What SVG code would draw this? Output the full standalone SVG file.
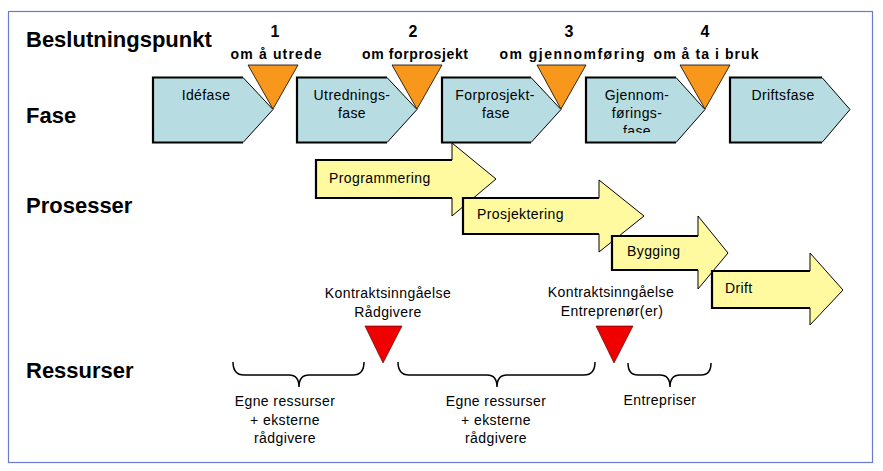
<svg xmlns="http://www.w3.org/2000/svg" width="883" height="471" viewBox="0 0 883 471">
<style>
.hd{font-family:"Liberation Sans",Arial,sans-serif;font-weight:bold;font-size:22px;fill:#000}
.num{font-family:"Liberation Sans",Arial,sans-serif;font-weight:bold;font-size:16px;fill:#000;text-anchor:middle}
.bp{font-family:"Liberation Sans",Arial,sans-serif;font-weight:bold;font-size:14px;fill:#000;text-anchor:middle}
.t{font-family:"Liberation Sans",Arial,sans-serif;font-size:14px;fill:#000;letter-spacing:0.4px}
.tc{font-family:"Liberation Sans",Arial,sans-serif;font-size:14px;fill:#000;letter-spacing:0.4px;text-anchor:middle}
.phase{fill:#B7DDE2;stroke:#000;stroke-width:1}
.edge{fill:none;stroke:#000;stroke-width:2.2}
.arrow{fill:#FFF9A0;stroke:#000;stroke-width:1}
.bd{fill:#F7981D;stroke:#000;stroke-width:0.8}
.ct{fill:#F00000;stroke:#300;stroke-width:0.6}
.brace{fill:none;stroke:#000;stroke-width:1.5}
</style>
<defs>
<clipPath id="gclip"><rect x="586" y="78" width="120" height="55"/></clipPath>
</defs>
<rect x="0" y="0" width="883" height="471" fill="#fff"/>
<rect x="8.5" y="11.5" width="864" height="451" fill="none" stroke="#6A7BCB" stroke-width="1.2"/>

<g id="labels">
<text class="hd" x="26" y="47">Beslutningspunkt</text>
<text class="hd" x="26" y="123">Fase</text>
<text class="hd" x="26" y="213">Prosesser</text>
<text class="hd" x="26" y="378">Ressurser</text>
</g>

<g id="phase1">
<polygon class="phase" points="153,77.5 243,77.5 273,109.5 243,142.5 153,142.5"/>
<path class="edge" d="M243,77.5 L153,77.5 L153,142.5 L243,142.5"/>
<text class="tc" x="206" y="100">Idéfase</text>
</g>
<g id="phase2">
<polygon class="phase" points="297,77.5 387,77.5 417,109.5 387,142.5 297,142.5"/>
<path class="edge" d="M387,77.5 L297,77.5 L297,142.5 L387,142.5"/>
<text class="tc" x="352" y="100">Utrednings-</text>
<text class="tc" x="352" y="118">fase</text>
</g>
<g id="phase3">
<polygon class="phase" points="442,77.5 531,77.5 561,109.5 531,142.5 442,142.5"/>
<path class="edge" d="M531,77.5 L442,77.5 L442,142.5 L531,142.5"/>
<text class="tc" x="495" y="100">Forprosjekt-</text>
<text class="tc" x="496" y="118">fase</text>
</g>
<g id="phase4">
<polygon class="phase" points="586,77.5 676,77.5 705,109.5 676,142.5 586,142.5"/>
<path class="edge" d="M676,77.5 L586,77.5 L586,142.5 L676,142.5"/>
<g clip-path="url(#gclip)">
<text class="tc" x="637" y="100">Gjennom-</text>
<text class="tc" x="637" y="118">førings-</text>
<text class="tc" x="637" y="136">fase</text>
</g>
</g>
<g id="phase5">
<polygon class="phase" points="730,77.5 822,77.5 850,109.5 822,142.5 730,142.5"/>
<path class="edge" d="M822,77.5 L730,77.5 L730,142.5 L822,142.5"/>
<text class="tc" x="783" y="100">Driftsfase</text>
</g>

<g id="bp1">
<polygon class="bd" points="248,65 298,65 273,109"/>
<text class="num" x="275" y="37">1</text>
<text class="bp" x="276" y="59" textLength="91" lengthAdjust="spacing">om å utrede</text>
</g>
<g id="bp2">
<polygon class="bd" points="392,65 442,65 417,109"/>
<text class="num" x="413" y="37">2</text>
<text class="bp" x="415" y="59" textLength="106" lengthAdjust="spacing">om forprosjekt</text>
</g>
<g id="bp3">
<polygon class="bd" points="537,65 586,65 561,109"/>
<text class="num" x="569" y="37">3</text>
<text class="bp" x="572" y="59" textLength="145" lengthAdjust="spacing">om gjennomføring</text>
</g>
<g id="bp4">
<polygon class="bd" points="680,65 730,65 705,109"/>
<text class="num" x="705" y="37">4</text>
<text class="bp" x="706" y="59" textLength="105" lengthAdjust="spacing">om å ta i bruk</text>
</g>

<g id="proc1">
<polygon class="arrow" points="316,160 452,160 452,143 496,179 452,216 452,198 316,198"/>
<path class="edge" d="M452,160 L316,160 L316,198 L452,198"/>
<text class="t" x="329" y="183">Programmering</text>
</g>
<g id="proc2">
<polygon class="arrow" points="463,198 599,198 599,180 644,216 599,252 599,234 463,234"/>
<path class="edge" d="M599,198 L463,198 L463,234 L599,234"/>
<text class="t" x="477" y="219">Prosjektering</text>
</g>
<g id="proc3">
<polygon class="arrow" points="612,236 698,236 698,216 728,253 698,289 698,270 612,270"/>
<path class="edge" d="M698,236 L612,236 L612,270 L698,270"/>
<text class="t" x="627" y="256">Bygging</text>
</g>
<g id="proc4">
<polygon class="arrow" points="712,271 810,271 810,253 843,290 810,325 810,308 712,308"/>
<path class="edge" d="M810,271 L712,271 L712,308 L810,308"/>
<text class="t" x="725" y="293">Drift</text>
</g>

<g id="contract1">
<polygon class="ct" points="365,326 402,326 383,363"/>
<text class="tc" x="388" y="298">Kontraktsinngåelse</text>
<text class="tc" x="388" y="317">Rådgivere</text>
</g>
<g id="contract2">
<polygon class="ct" points="596,326 633,326 614,363"/>
<text class="tc" x="611" y="297">Kontraktsinngåelse</text>
<text class="tc" x="612" y="316">Entreprenør(er)</text>
</g>

<g id="connectors">
<path class="brace" d="M233,362 Q233,375 244,375 L289,375 Q299,375 299,387 Q299,375 309,375 L353,375 Q364,375 364,362"/>
<path class="brace" d="M398,362 Q398,375 409,375 L487,375 Q497,375 497,387 Q497,375 507,375 L584,375 Q595,375 595,362"/>
<path class="brace" d="M628,363 Q628,375 638,375 L660,375 Q670,375 670,387 Q670,375 680,375 L701,375 Q711,375 711,363"/>
</g>

<g id="res1">
<text class="tc" x="285" y="406">Egne ressurser</text>
<text class="tc" x="285" y="425">+ eksterne</text>
<text class="tc" x="285" y="443">rådgivere</text>
</g>
<g id="res2">
<text class="tc" x="496" y="406">Egne ressurser</text>
<text class="tc" x="496" y="425">+ eksterne</text>
<text class="tc" x="496" y="443">rådgivere</text>
</g>
<g id="res3">
<text class="tc" x="660" y="405">Entrepriser</text>
</g>
</svg>
